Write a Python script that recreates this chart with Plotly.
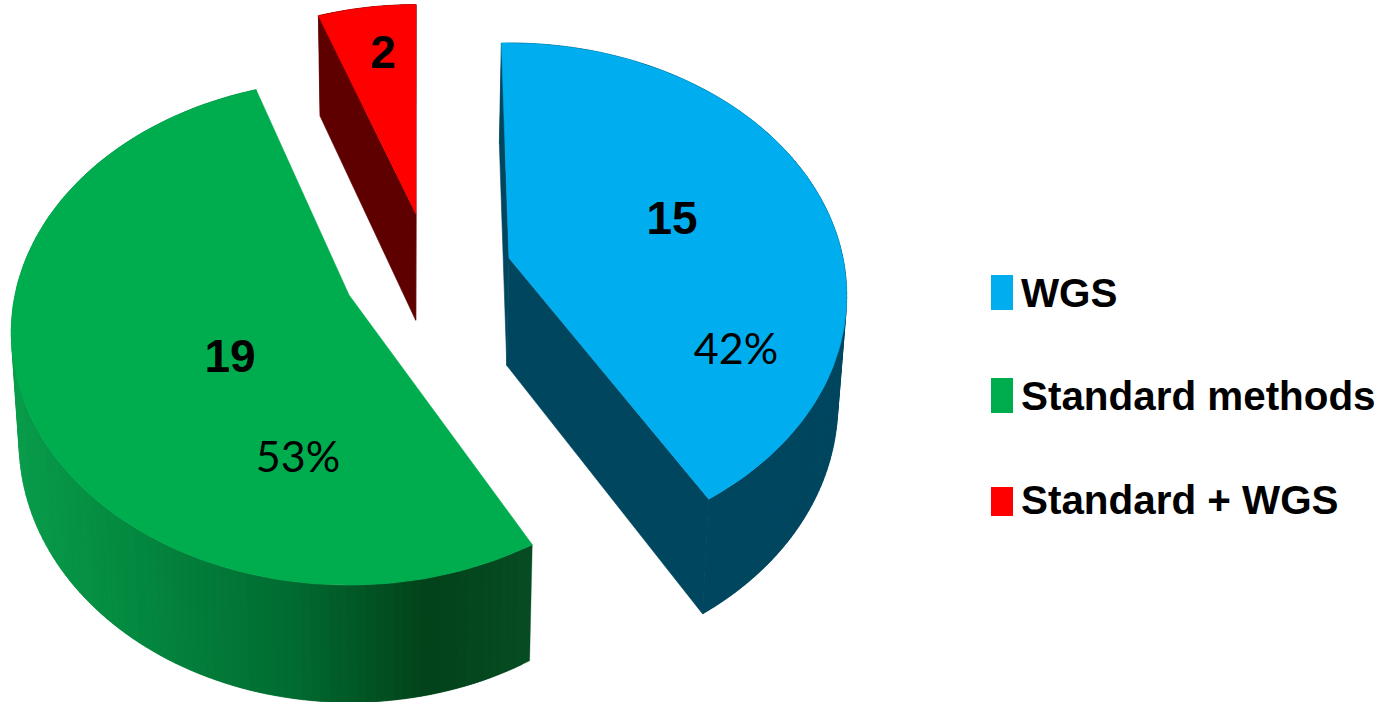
import numpy as np
import plotly.graph_objects as go

# Study counts per identification approach
categories = ["WGS", "Standard methods", "Standard + WGS"]
counts = [15, 19, 2]
percent_labels = ["42%", "53%", ""]

# Styling of each slice
TOP_COLORS = ["#00AEEF", "#00AD4E", "#FF0000"]
SIDE_COLORS = ["#00465F", None, "#5F0000"]
GREEN_SHADE_STOPS = [(15, (9, 156, 75)), (150, (3, 134, 62)), (300, (1, 106, 48)),
                     (433, (2, 66, 26)), (533, (6, 76, 34))]

# Projection of the tilted disc onto the page (page units = pixels)
CX, CY = 430.0, 273.0
SCALE_X, SCALE_Y, TILT = 334.0, 247.0, 0.1485
EXPLODE = [(79, -15), (-81, 22), (-14, -59)]
SLICE_TURN = [-1.5, 1.5, 0.0]
SLICE_RADIUS = [1.0, 1.0, 0.97]
DEPTH, DEPTH_GROW = 108.0, 0.03
TAPER, TAPER_X = 0.02, 400.0

WIDTH, HEIGHT = 1383, 702


def rim(theta, apex, radius):
    gx, gy = radius * np.sin(theta), -radius * np.cos(theta)
    den = 1 - TILT * gy
    return apex[0] + SCALE_X * gx / den, apex[1] + SCALE_Y * gy / den


def drop(x, y):
    # Lower rim of the disc directly under a point of the upper face
    return x - TAPER * (x - TAPER_X), y + DEPTH + DEPTH_GROW * (y - CY)


def polygon(x, y, color, width=0.6):
    return go.Scatter(x=list(x) + [x[0]], y=list(y) + [y[0]], mode="lines",
                      fill="toself", fillcolor=color,
                      line=dict(color=color, width=width),
                      hoverinfo="skip", showlegend=False)


def green_shade(x):
    xs = [s[0] for s in GREEN_SHADE_STOPS]
    rgb = [np.interp(x, xs, [s[1][i] for s in GREEN_SHADE_STOPS]) for i in range(3)]
    return "rgb(%d,%d,%d)" % tuple(int(round(v)) for v in rgb)


total = sum(counts)
edges = np.cumsum([0] + counts) / total * 360.0
fig = go.Figure()

# Back slices first so nearer faces paint over them
for idx in [2, 0, 1]:
    start = np.radians(edges[idx] + SLICE_TURN[idx])
    end = np.radians(edges[idx + 1] + SLICE_TURN[idx])
    thetas = np.linspace(start, end, 140)
    apex = (CX + EXPLODE[idx][0], CY + EXPLODE[idx][1])
    rx, ry = rim(thetas, apex, SLICE_RADIUS[idx])
    bx, by = drop(rx, ry)
    abx, aby = drop(*apex)

    if SIDE_COLORS[idx]:
        side = SIDE_COLORS[idx]
        for k in (0, -1):
            fig.add_trace(polygon([apex[0], rx[k], bx[k], abx], [apex[1], ry[k], by[k], aby], side))

    # Curved wall built from narrow overlapping strips
    for j in range(len(thetas) - 1):
        k = min(j + 2, len(thetas) - 1)
        color = SIDE_COLORS[idx] or green_shade(rx[j])
        fig.add_trace(polygon([rx[j], rx[k], bx[k], bx[j]], [ry[j], ry[k], by[k], by[j]], color, 0.3))

    fig.add_trace(polygon(np.r_[apex[0], rx], np.r_[apex[1], ry], TOP_COLORS[idx]))

# Count and percentage labels on the slices
COUNT_POS = [(672, 222), (230, 360), (383, 56)]
PCT_POS = [(736, 353), (298, 461), None]
for i, c in enumerate(counts):
    fig.add_trace(go.Scatter(x=[COUNT_POS[i][0]], y=[COUNT_POS[i][1]], mode="text", text=[str(c)],
                             textposition="middle center", hoverinfo="skip", showlegend=False,
                             textfont=dict(family="Liberation Sans", size=46, color="black",
                                           weight="bold")))
    if percent_labels[i]:
        fig.add_trace(go.Scatter(x=[PCT_POS[i][0]], y=[PCT_POS[i][1]], mode="text",
                                 text=[percent_labels[i]], textposition="middle center",
                                 hoverinfo="skip", showlegend=False,
                                 textfont=dict(family="Lato", size=43, color="black")))

# Key on the right
KEY_ROWS = [(275, 310, 297), (378, 413, 400), (487, 516, 504)]
shapes = []
for i, (y0, y1, yt) in enumerate(KEY_ROWS):
    shapes.append(dict(type="rect", xref="x", yref="y", x0=991, x1=1013, y0=y0, y1=y1,
                       fillcolor=TOP_COLORS[i], line=dict(width=0)))
    fig.add_trace(go.Scatter(x=[1021], y=[yt], mode="text", text=[categories[i]],
                             textposition="middle right", hoverinfo="skip", showlegend=False,
                             textfont=dict(family="Liberation Sans", size=40.4, color="black",
                                           weight="bold")))

fig.update_layout(
    width=WIDTH, height=HEIGHT, margin=dict(l=0, r=0, t=0, b=0),
    paper_bgcolor="white", plot_bgcolor="white", showlegend=False, shapes=shapes,
    xaxis=dict(range=[0, WIDTH], visible=False, fixedrange=True),
    yaxis=dict(range=[HEIGHT, 0], visible=False, fixedrange=True),
)
fig.write_html("out.html", config=dict(displayModeBar=False))
